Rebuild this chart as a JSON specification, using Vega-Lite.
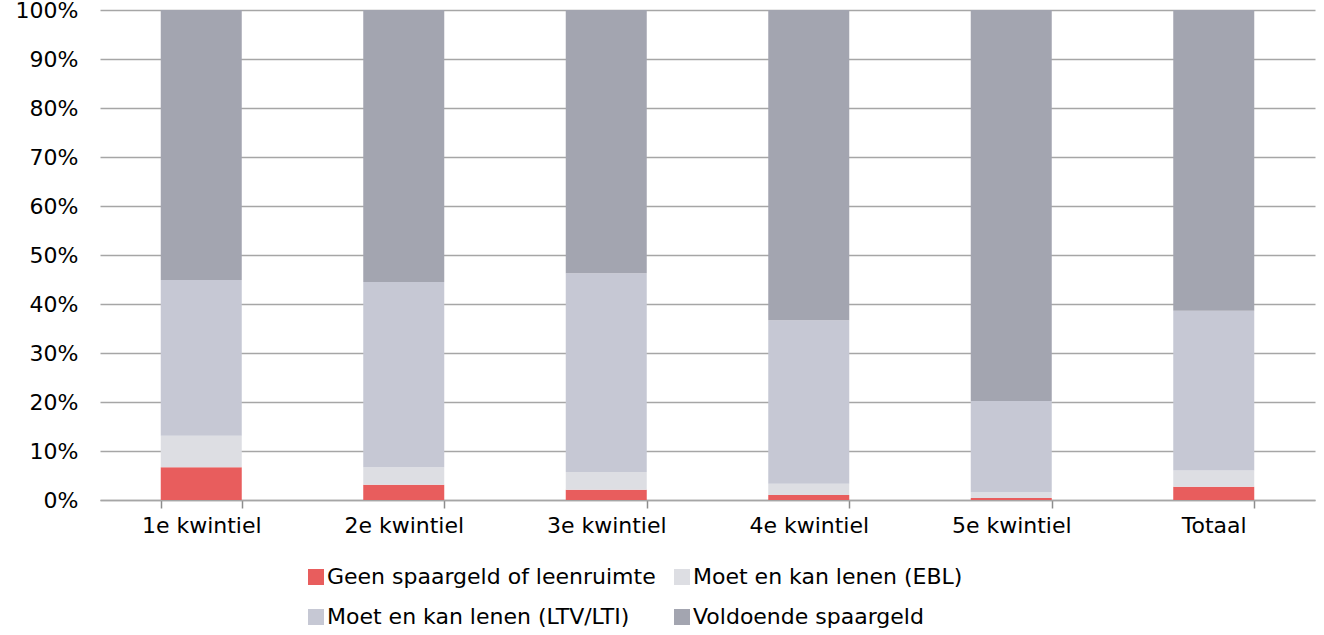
{
  "$schema": "https://vega.github.io/schema/vega-lite/v6.json",
  "width": 1215,
  "height": 490,
  "autosize": {"type": "none"},
  "padding": {"left": 100, "top": 10, "right": 9, "bottom": 135},
  "background": "white",
  "config": {
    "view": {"stroke": null},
    "font": "DejaVu Sans"
  },
  "data": {
    "values": [
      {"groep": "1e kwintiel", "cat": "Geen spaargeld of leenruimte", "o": 1, "v": 6.7},
      {"groep": "1e kwintiel", "cat": "Moet en kan lenen (EBL)", "o": 2, "v": 6.4},
      {"groep": "1e kwintiel", "cat": "Moet en kan lenen (LTV/LTI)", "o": 3, "v": 31.8},
      {"groep": "1e kwintiel", "cat": "Voldoende spaargeld", "o": 4, "v": 55.1},
      {"groep": "2e kwintiel", "cat": "Geen spaargeld of leenruimte", "o": 1, "v": 3.1},
      {"groep": "2e kwintiel", "cat": "Moet en kan lenen (EBL)", "o": 2, "v": 3.6},
      {"groep": "2e kwintiel", "cat": "Moet en kan lenen (LTV/LTI)", "o": 3, "v": 37.8},
      {"groep": "2e kwintiel", "cat": "Voldoende spaargeld", "o": 4, "v": 55.5},
      {"groep": "3e kwintiel", "cat": "Geen spaargeld of leenruimte", "o": 1, "v": 2.1},
      {"groep": "3e kwintiel", "cat": "Moet en kan lenen (EBL)", "o": 2, "v": 3.6},
      {"groep": "3e kwintiel", "cat": "Moet en kan lenen (LTV/LTI)", "o": 3, "v": 40.6},
      {"groep": "3e kwintiel", "cat": "Voldoende spaargeld", "o": 4, "v": 53.7},
      {"groep": "4e kwintiel", "cat": "Geen spaargeld of leenruimte", "o": 1, "v": 1.0},
      {"groep": "4e kwintiel", "cat": "Moet en kan lenen (EBL)", "o": 2, "v": 2.3},
      {"groep": "4e kwintiel", "cat": "Moet en kan lenen (LTV/LTI)", "o": 3, "v": 33.4},
      {"groep": "4e kwintiel", "cat": "Voldoende spaargeld", "o": 4, "v": 63.3},
      {"groep": "5e kwintiel", "cat": "Geen spaargeld of leenruimte", "o": 1, "v": 0.4},
      {"groep": "5e kwintiel", "cat": "Moet en kan lenen (EBL)", "o": 2, "v": 1.2},
      {"groep": "5e kwintiel", "cat": "Moet en kan lenen (LTV/LTI)", "o": 3, "v": 18.6},
      {"groep": "5e kwintiel", "cat": "Voldoende spaargeld", "o": 4, "v": 79.8},
      {"groep": "Totaal", "cat": "Geen spaargeld of leenruimte", "o": 1, "v": 2.7},
      {"groep": "Totaal", "cat": "Moet en kan lenen (EBL)", "o": 2, "v": 3.3},
      {"groep": "Totaal", "cat": "Moet en kan lenen (LTV/LTI)", "o": 3, "v": 32.6},
      {"groep": "Totaal", "cat": "Voldoende spaargeld", "o": 4, "v": 61.4}
    ]
  },
  "mark": {"type": "bar"},
  "encoding": {
    "x": {
      "field": "groep",
      "type": "nominal",
      "sort": null,
      "scale": {"paddingInner": 0.6, "paddingOuter": 0.3},
      "axis": {
        "title": null,
        "labelAngle": 0,
        "labelFontSize": 22,
        "labelColor": "#000000",
        "labelPadding": 7,
        "domainColor": "#A6A6A6",
        "domainWidth": 1.5,
        "tickColor": "#8C8C8C",
        "tickWidth": 1.5,
        "tickSize": 8,
        "tickBand": "extent",
        "grid": false
      }
    },
    "y": {
      "field": "v",
      "type": "quantitative",
      "stack": "zero",
      "scale": {"domain": [0, 100], "nice": false},
      "axis": {
        "title": null,
        "values": [0, 10, 20, 30, 40, 50, 60, 70, 80, 90, 100],
        "labelExpr": "datum.value + '%'",
        "labelFontSize": 22,
        "labelColor": "#000000",
        "labelPadding": 22,
        "domain": false,
        "ticks": false,
        "grid": true,
        "gridColor": "#A6A6A6",
        "gridWidth": 1.5
      }
    },
    "order": {"field": "o", "type": "quantitative"},
    "color": {
      "field": "cat",
      "type": "nominal",
      "sort": ["Geen spaargeld of leenruimte", "Moet en kan lenen (EBL)", "Moet en kan lenen (LTV/LTI)", "Voldoende spaargeld"],
      "scale": {
        "domain": ["Geen spaargeld of leenruimte", "Moet en kan lenen (EBL)", "Moet en kan lenen (LTV/LTI)", "Voldoende spaargeld"],
        "range": ["#E85D5D", "#DDDEE3", "#C6C8D4", "#A3A5B0"]
      },
      "legend": {
        "title": null,
        "orient": "none",
        "legendX": 205,
        "legendY": 556,
        "direction": "horizontal",
        "columns": 2,
        "gridAlign": "none",
        "symbolType": "square",
        "symbolSize": 256,
        "symbolStrokeWidth": 0,
        "labelFontSize": 22,
        "labelColor": "#000000",
        "labelOffset": 0,
        "labelLimit": 600,
        "columnPadding": 15,
        "rowPadding": 18
      }
    }
  }
}
